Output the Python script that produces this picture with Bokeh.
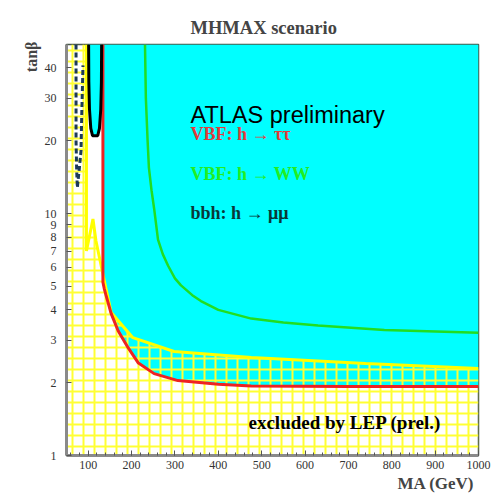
from bokeh.plotting import figure
from bokeh.models import (Range1d, FixedTicker, SingleIntervalTicker,
                          PrintfTickFormatter, Label, Title)
from bokeh.embed import file_html
from bokeh.resources import INLINE
import math

# ---------------- data ----------------
x_ticks = [100, 200, 300, 400, 500, 600, 700, 800, 900, 1000]
y_ticks = [1, 2, 3, 4, 5, 6, 7, 8, 9, 10, 20, 30, 40]

# VBF h -> tau tau exclusion contour (red)
tautau_ma = [134, 134, 137, 141, 153, 169, 192, 215, 252, 307, 400, 476, 700, 1000]
tautau_tb = [50, 5.2, 4.9, 4.6, 3.86, 3.28, 2.79, 2.42, 2.18, 2.04, 1.97, 1.94, 1.93, 1.93]

# VBF h -> WW contour (green)
ww_ma = [231, 233, 237, 240, 246, 252, 261, 272, 284, 300, 314, 340, 360, 400, 476, 550, 630, 783, 1000]
ww_tb = [50, 30, 20, 15.5, 12.5, 10.5, 7.8, 6.8, 6.1, 5.4, 5.05, 4.6, 4.35, 4.0, 3.68, 3.55, 3.45, 3.3, 3.22]

# bbh h -> mu mu contour (black U)
mumu_ma = [101, 101.5, 103, 106, 110, 122, 126, 129, 130.5, 131]
mumu_tb = [50, 35, 27, 22.5, 21, 21, 22.5, 27, 35, 50]

# low-M_A dashed contour
lowA_ma = [72, 72, 73.5, 75, 79, 83.5, 85, 88]
lowA_tb = [50, 20, 15, 12.8, 15, 18.2, 25, 41]

# LEP excluded boundary (yellow)
lep_ma = [96, 96, 111, 118, 137, 153, 203, 298, 476, 740, 1000]
lep_tb = [50, 7.0, 9.5, 7.7, 5.29, 3.9, 3.07, 2.69, 2.54, 2.40, 2.29]

# ---------------- figure ----------------
W, H = 497, 500
FL, FR, FT, FB = 66, 478, 44, 455      # frame edges in page px
XMIN, XMAX, YMIN, YMAX = 50, 1000, 1, 50

def px2x(px):
    return XMIN + (px - FL) * (XMAX - XMIN) / (FR - FL)

def py2y(py):
    return 10 ** (math.log10(YMIN) + (FB - py) * (math.log10(YMAX) - math.log10(YMIN)) / (FB - FT))

p = figure(width=W, height=H, y_axis_type="log",
           x_range=Range1d(XMIN, XMAX), y_range=Range1d(YMIN, YMAX),
           output_backend="svg", toolbar_location=None,
           min_border_left=FL, min_border_right=W - FR,
           min_border_top=FT, min_border_bottom=H - FB)
p.border_fill_color = "white"
p.background_fill_color = "white"
p.grid.visible = False
p.outline_line_color = "#4a5a4a"
p.outline_line_width = 1.5

# titles / axis names
p.title.text = "MHMAX scenario"
p.title.align = "left"
p.title.offset = 124
p.title.text_font = "Liberation Serif"
p.title.text_font_size = "18.5px"
p.title.text_font_style = "bold"
p.title.standoff = 14

p.add_layout(Title(text="tan\u03b2", align="right", text_font="Liberation Serif",
                   text_font_size="16px", text_font_style="bold", standoff=4,
                   offset=-3), "left")
p.add_layout(Title(text="MA (GeV)", align="left", offset=397 - 66,
                   text_font="Liberation Serif",
                   text_font_size="17px", text_font_style="bold", standoff=0), "below")

# axes
p.xaxis.ticker = SingleIntervalTicker(interval=100, num_minor_ticks=5)
p.yaxis.ticker = FixedTicker(ticks=y_ticks, minor_ticks=[])
p.yaxis.formatter = PrintfTickFormatter(format="%d")
for ax in (p.xaxis, p.yaxis):
    ax.axis_line_color = "#8a8a8a"
    ax.axis_line_width = 3
    ax.major_tick_in = 5
    ax.major_tick_out = 0
    ax.major_tick_line_color = "#555555"
    ax.minor_tick_in = 3
    ax.minor_tick_out = 0
    ax.minor_tick_line_color = "#555555"
    ax.major_label_text_font = "Liberation Serif"
    ax.major_label_text_font_size = "12px"
    ax.major_label_text_color = "#333333"
p.xaxis.major_label_standoff = 5
p.yaxis.major_label_standoff = 10

# exclusion fills
p.patch(tautau_ma + [1000], tautau_tb + [50], fill_color="#00FFFF", line_alpha=0)
p.patch(mumu_ma, mumu_tb, fill_color="#00FFFF", line_alpha=0)

# LEP hatched region
p.patch([50] + lep_ma + [1000, 50], [50] + lep_tb + [1, 1],
        fill_alpha=0, line_alpha=0, hatch_pattern="+", hatch_color="#FFFF33",
        hatch_scale=11, hatch_weight=2)

# contours
p.line(lep_ma, lep_tb, line_color="#FFFF00", line_width=3)
p.line(tautau_ma, tautau_tb, line_color="#EE2222", line_width=3)
p.line(ww_ma, ww_tb, line_color="#22DD22", line_width=2.5)
p.line(mumu_ma, mumu_tb, line_color="black", line_width=3)
p.line(lowA_ma, lowA_tb, line_color="#1c3a58", line_width=3, line_dash="5 3")

def lab(text, px, py, size, color="black", font="Liberation Serif", style="bold"):
    p.add_layout(Label(x=px2x(px), y=py2y(py), text=text, text_font=font,
                       text_font_size=f"{size}px", text_font_style=style,
                       text_color=color, text_align="left",
                       text_baseline="alphabetic"))

lab("ATLAS preliminary", 190, 114, 23.5, font="Liberation Sans", style="normal")
lab("VBF: h \u2192  \u03c4\u03c4", 190, 133, 18, color="#E23A3A")
lab("VBF: h \u2192  WW", 190, 173, 18, color="#22EE22")
lab("bbh: h \u2192  \u03bc\u03bc", 190, 212, 18, color="#0a3838")
lab("excluded by LEP (prel.)", 248, 422, 19)

open("out.html", "w").write(file_html(p, INLINE))
